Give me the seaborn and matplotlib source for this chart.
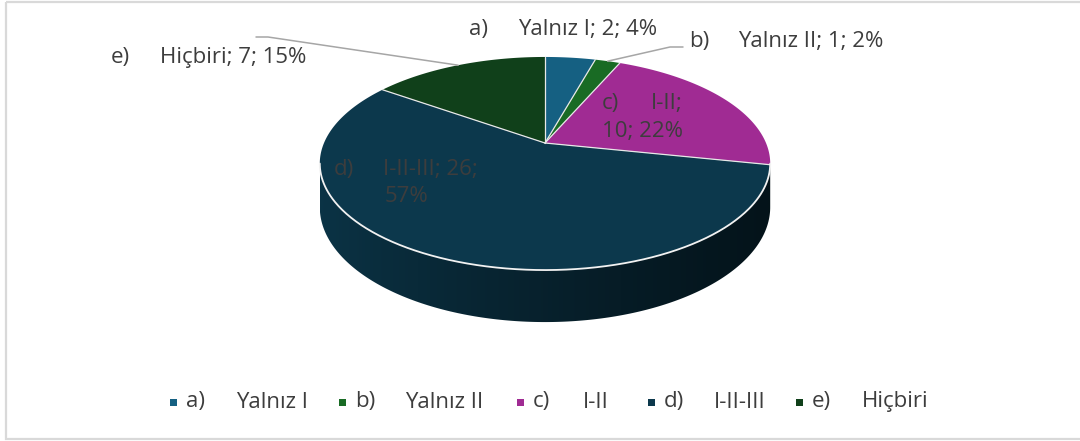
import numpy as np
import matplotlib
matplotlib.use("Agg")
import matplotlib.pyplot as plt
from matplotlib.patches import Polygon, Rectangle
from matplotlib.colors import to_rgb
import seaborn as sns

# ---- data -------------------------------------------------------------
letters = ["a)", "b)", "c)", "d)", "e)"]
categories = ["Yalnız I", "Yalnız II", "I-II", "I-II-III", "Hiçbiri"]
counts = [2, 1, 10, 26, 7]
slice_colors = ["#156082", "#196B24", "#A02B93", "#0C384C", "#10401A"]

# ---- style ------------------------------------------------------------
sns.set_theme(style="white")
plt.rcParams["font.family"] = ["Open Sans", "DejaVu Sans"]
palette = sns.color_palette(slice_colors)
TEXT = "#3d3d3d"
FS = 16

W, H = 1080, 441
fig = plt.figure(figsize=(W / 100, H / 100), dpi=100)
ax = fig.add_axes([0, 0, 1, 1])
ax.set_xlim(0, W)
ax.set_ylim(H, 0)
ax.axis("off")

# chart frame
ax.add_patch(Rectangle((6, 2), 1090, 437, fill=False, ec="#d9d9d9", lw=1.6, zorder=0))

# ---- tilted pie geometry (perspective projection of a disk) -----------
cx, cy = 545, 143
RX, RY = 221, 102.6
persp = 0.1925
thick = 42


def project(phi, h=0.0):
    """phi: clockwise angle from 12 o'clock; h=0 top face, h=1 bottom face."""
    phi = np.asarray(phi, dtype=float)
    u = np.sin(phi)
    v = -np.cos(phi)
    s = 1.0 / (1.0 - persp * v)
    return cx + RX * u * s, cy + (RY * v + thick * h) * s


total = float(sum(counts))
fracs = np.array(counts) / total
edges = np.concatenate([[0.0], np.cumsum(fracs)]) * 2 * np.pi
pcts = [int(round(f * 100)) for f in fracs]

# visible part of the cylinder wall lies between the two silhouette angles
phi_r = np.arccos(-persp)
phi_l = 2 * np.pi - phi_r
x_left, _ = project(phi_l)
x_right, _ = project(phi_r)

# side walls with a horizontal shading gradient
for k, col in enumerate(palette):
    a0 = max(edges[k], phi_r)
    a1 = min(edges[k + 1], phi_l)
    if a1 <= a0:
        continue
    t = np.linspace(a0, a1, 200)
    xt, yt = project(t, 0)
    xb, yb = project(t[::-1], 1)
    poly = Polygon(np.column_stack([np.r_[xt, xb], np.r_[yt, yb]]),
                   closed=True, fc="none", ec="none", zorder=1)
    ax.add_patch(poly)
    base = np.array(to_rgb(col))
    xs = np.linspace(0, 1, 400)
    shade = 0.92 - 0.58 * xs ** 0.8
    grad = (base[None, :] * shade[:, None])[None, :, :]
    im = ax.imshow(grad, extent=[x_left, x_right, 340, 120], aspect="auto",
                   interpolation="bilinear", zorder=1)
    im.set_clip_path(poly)

# top face slices
for k, col in enumerate(palette):
    t = np.linspace(edges[k], edges[k + 1], 300)
    xs, ys = project(t, 0)
    pts = np.column_stack([np.r_[cx, xs], np.r_[cy, ys]])
    ax.add_patch(Polygon(pts, closed=True, fc=col, ec="none", zorder=2))

# slice separators
for a in edges[:-1]:
    xe, ye = project(a, 0)
    ax.plot([cx, xe], [cy, ye], color="#e8e8e8", lw=0.9, zorder=3)

# white rim along the front edge of the top face
t = np.linspace(phi_r, phi_l, 300)
xr, yr = project(t, 0)
ax.plot(xr, yr, color="#f2f2f2", lw=1.3, zorder=3)

# ---- data labels ------------------------------------------------------
TAB = 49


def label(x, y, letter, text, color=TEXT):
    ax.text(x, y, letter, fontsize=FS, color=color, va="center", ha="left", zorder=5)
    ax.text(x + TAB, y, text, fontsize=FS, color=color, va="center", ha="left", zorder=5)


def mid_anchor(k):
    return project(0.5 * (edges[k] + edges[k + 1]), 0)


# a) and b) above the pie
label(469, 30, letters[0], f"{categories[0]}; {counts[0]}; {pcts[0]}%")
label(689, 41, letters[1], f"{categories[1]}; {counts[1]}; {pcts[1]}%")
bx, by = mid_anchor(1)
ax.plot([683, 670, bx], [47, 47, by], color="#a6a6a6", lw=1.1, zorder=4)

# c) inside the slice
label(602, 104, letters[2], f"{categories[2]};")
ax.text(602, 132, f"{counts[2]}; {pcts[2]}%", fontsize=FS, color=TEXT, va="center", zorder=5)

# d) inside the slice
label(334, 169, letters[3], f"{categories[3]}; {counts[3]};")
ax.text(334 + TAB + 2, 197, f"{pcts[3]}%", fontsize=FS, color=TEXT, va="center", zorder=5)

# e) to the upper left with a leader line
label(111, 58, letters[4], f"{categories[4]}; {counts[4]}; {pcts[4]}%")
ex, ey = mid_anchor(4)
ax.plot([256, 268, ex], [37, 37, ey], color="#a6a6a6", lw=1.1, zorder=4)

# ---- legend -----------------------------------------------------------
leg_x = [170, 339, 517, 648, 796]
leg_y = 402
for k, col in enumerate(palette):
    x0 = leg_x[k]
    ax.add_patch(Rectangle((x0, leg_y - 3.5), 7, 7, fc=col, ec="none", zorder=5))
    ax.text(x0 + 16, leg_y, letters[k], fontsize=FS, color=TEXT, va="center", zorder=5)
    ax.text(x0 + 16 + 50, leg_y, categories[k], fontsize=FS, color=TEXT, va="center", zorder=5)

fig.savefig("out.png", dpi=100, facecolor="white")
